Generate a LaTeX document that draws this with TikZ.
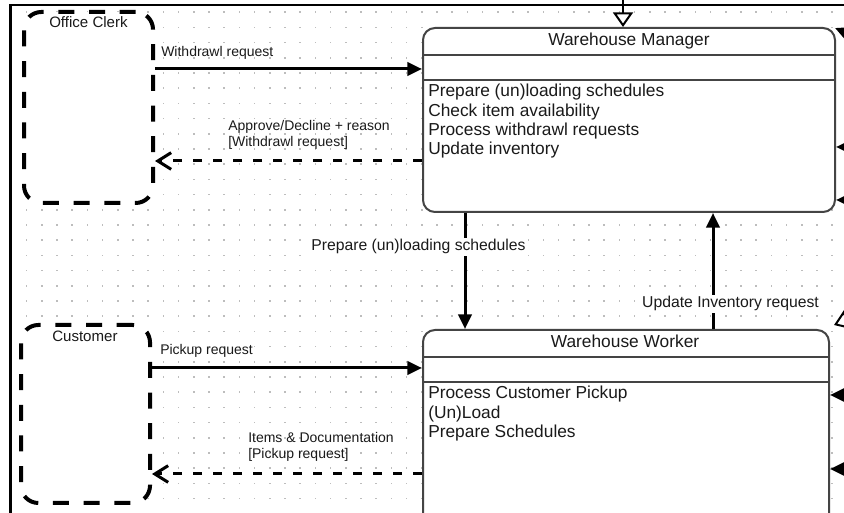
\documentclass[tikz,border=0pt]{standalone}
\usepackage{fontspec}
\setmainfont{Liberation Sans}
\usetikzlibrary{arrows.meta,fit}

\definecolor{gridgrey}{HTML}{BDBDBD}
\definecolor{boxgrey}{HTML}{444444}
\definecolor{ink}{HTML}{1A1A1A}

\tikzset{
  frameline/.style={line width=2pt, black},
  actor/.style={draw=black, fill=white, line width=3pt, dash pattern=on 12pt off 11pt,
                rounded corners=13pt, inner sep=0pt},
  classbox/.style={draw=boxgrey, fill=white, line width=1.5pt, rounded corners=9pt, inner sep=0pt},
  sepline/.style={draw=boxgrey, line width=1.1pt},
  flow/.style={draw=black, line width=2.25pt, -{Triangle[length=11pt,width=10pt]}},
  reply/.style={draw=black, line width=2.25pt, dash pattern=on 7pt off 8pt,
                -{Straight Barb[length=10pt,width=12.5pt]}},
  hollowtip/.style={draw=black, line width=1.5pt, -{Triangle[open,length=11pt,width=15pt,fill=white]}},
  lbl/.style={font=\fontsize{10.5}{12}\selectfont, text=ink, inner sep=0pt},
  vlbl/.style={font=\fontsize{11.8}{13}\selectfont, text=ink, fill=white, inner sep=1.5pt},
  actorlbl/.style={font=\fontsize{11.3}{13}\selectfont, text=ink, inner sep=0pt},
  titletext/.style={font=\fontsize{13}{15}\selectfont, text=ink, inner sep=0pt},
  bodytext/.style={font=\fontsize{13}{15}\selectfont, text=ink, inner sep=0pt, anchor=base west},
}

\begin{document}
\begin{tikzpicture}[x=0.75pt,y=-0.75pt]
\useasboundingbox (0,0) rectangle (844,513);
\fill[white] (0,0) rectangle (844,513);

% dotted drawing grid
\foreach \i in {0,...,54}
  \foreach \j in {0,...,33}
    \fill[gridgrey] (11.4+15.2*\i-0.8,12.2+15.2*\j-0.8) rectangle ++(1.6,1.6);

% page frame (top and left edges)
\draw[frameline] (846,5) -- (10.7,5) -- (10.7,515);

% actors
\node[actor, fit={(24,12) (153,203)}] (clerk) {};
\node[actorlbl, anchor=base west] (clerkname) at (49,28) {Office Clerk};
\node[actor, fit={(21,325) (150,503)}] (cust) {};
\node[actorlbl, anchor=base west] (custname) at (52,342) {Customer};

% class boxes
\node[classbox, fit={(423,28) (835,212)}] (mgr) {};
\draw[sepline] (mgr.west |- 0,55) -- (mgr.east |- 0,55);
\draw[sepline] (mgr.west |- 0,80) -- (mgr.east |- 0,80);
\node[titletext, anchor=base] (mgrtitle) at (629,46) {Warehouse Manager};
\node[bodytext] (mgrop1) at (428,97) {Prepare (un)loading schedules};
\node[bodytext] (mgrop2) at (428,116.5) {Check item availability};
\node[bodytext] (mgrop3) at (428,136) {Process withdrawl requests};
\node[bodytext] (mgrop4) at (428,155) {Update inventory};

\node[classbox, fit={(423,330) (829,545)}] (wkr) {};
\draw[sepline] (wkr.west |- 0,357) -- (wkr.east |- 0,357);
\draw[sepline] (wkr.west |- 0,382) -- (wkr.east |- 0,382);
\node[titletext, anchor=base] (wkrtitle) at (625,348) {Warehouse Worker};
\node[bodytext] (wkrop1) at (428,399) {Process Customer Pickup};
\node[bodytext] (wkrop2) at (428,418.5) {(Un)Load};
\node[bodytext] (wkrop3) at (428,438) {Prepare Schedules};

% office clerk <-> manager
\draw[flow] (clerk.east |- 0,69) -- (mgr.west |- 0,69);
\node[lbl, anchor=base west] (withdrawlbl) at (161,57) {Withdrawl request};
\draw[reply] (mgr.west |- 0,161) -- (clerk.east |- 0,161);
\node[lbl, anchor=base west] (approvelbl) at (228,131) {Approve/Decline + reason};
\node[lbl, anchor=base west] (approvelbl2) at (228,147) {[Withdrawl request]};

% customer <-> worker
\draw[flow] (cust.east |- 0,368) -- (wkr.west |- 0,368);
\node[lbl, anchor=base west] (pickuplbl) at (160,355) {Pickup request};
\draw[reply] (wkr.west |- 0,474) -- (cust.east |- 0,474);
\node[lbl, anchor=base west] (itemslbl) at (248,443) {Items \& Documentation};
\node[lbl, anchor=base west] (itemslbl2) at (248,459) {[Pickup request]};

% manager <-> worker
\draw[flow] (mgr.south -| 465,0) -- (wkr.north -| 465,0);
\node[vlbl, anchor=base] (preplbl) at (418.5,251) {Prepare (un)loading schedules};
\draw[flow] (wkr.north -| 713,0) -- (mgr.south -| 713,0);
\node[vlbl, anchor=base] (updlbl) at (730.5,308) {Update Inventory request};

% connectors entering from outside the frame
\coordinate (topin) at (623,0);
\draw[hollowtip] (topin) -- (mgr.north -| topin);
\coordinate (mgrin1) at (880,147);
\coordinate (mgrin2) at (880,200);
\coordinate (mgrin3) at (875,45);
\draw[flow] (mgrin1) -- (mgr.east |- mgrin1);
\draw[flow] (mgrin2) -- (mgr.east |- mgrin2);
\draw[flow] (mgrin3) -- ([shift={(-1,1)}]mgr.north east);
\coordinate (wkrin1) at (880,395);
\coordinate (wkrin2) at (880,469);
\coordinate (wkrin3) at (875,309);
\draw[flow] (wkrin1) -- (wkr.east |- wkrin1);
\draw[flow] (wkrin2) -- (wkr.east |- wkrin2);
\draw[hollowtip] (wkrin3) -- ([shift={(4,-4)}]wkr.north east);
\end{tikzpicture}
\end{document}
